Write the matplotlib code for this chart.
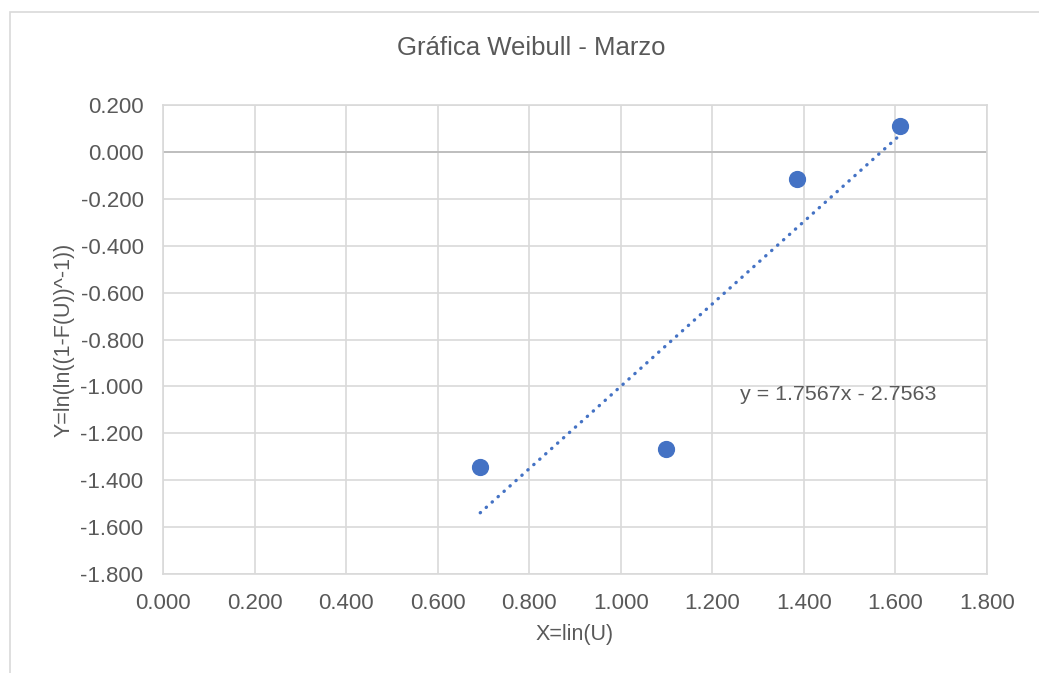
import matplotlib.pyplot as plt
import matplotlib.patches as patches
import numpy as np

plt.rcParams['font.family'] = ['Liberation Sans', 'DejaVu Sans']

# datos Weibull - Marzo
x_vals = [0.693, 1.099, 1.386, 1.609]
y_vals = [-1.344, -1.265, -0.115, 0.110]
pendiente = 1.7567
intercepto = -2.7563
x_ticks = [0.0, 0.2, 0.4, 0.6, 0.8, 1.0, 1.2, 1.4, 1.6, 1.8]
y_ticks = [0.2, 0.0, -0.2, -0.4, -0.6, -0.8, -1.0, -1.2, -1.4, -1.6, -1.8]

azul = '#4472C4'
gris = '#595959'

fig = plt.figure(figsize=(10.39, 6.73), dpi=100)
ax = fig.add_axes([163/1039, 99/673, (987-163)/1039, (574-105)/673])

# borde del area del grafico
fig.patches.append(patches.Rectangle((10/1039, -0.1), 1.2, 1 - 12/673 + 0.1,
                                     transform=fig.transFigure, fill=False,
                                     edgecolor='#D9D9D9', linewidth=1.2))

ax.scatter(x_vals, y_vals, s=130, color=azul, zorder=3)

xt = np.array([min(x_vals), max(x_vals)])
ax.plot(xt, pendiente * xt + intercepto, color=azul, linewidth=2.4,
        linestyle=(0, (0.1, 2.3)), dash_capstyle='round', zorder=2)
ax.text(1.474, -1.035, 'y = 1.7567x - 2.7563', fontsize=15.4, color=gris,
        ha='center', va='center')

ax.set_xlim(0, 1.8)
ax.set_ylim(-1.8, 0.2)
ax.set_xticks(x_ticks)
ax.set_yticks(y_ticks)
ax.set_xticklabels([f'{v:.3f}' for v in x_ticks])
ax.set_yticklabels([f'{v:.3f}' for v in y_ticks])
ax.tick_params(length=0, labelsize=16, colors=gris)
ax.tick_params(axis='x', pad=14)
ax.tick_params(axis='y', pad=14)
ax.grid(True, color='#D9D9D9', linewidth=1.2)
ax.set_axisbelow(True)
for s in ax.spines.values():
    s.set_color('#D9D9D9')
    s.set_linewidth(1.2)
ax.axhline(0, color='#BFBFBF', linewidth=1.4, zorder=1)

ax.set_xlabel('X=lin(U)', fontsize=15.5, color=gris, labelpad=7)
ax.set_ylabel('Y=ln(ln((1-F(U))^-1))', fontsize=15.5, color=gris, labelpad=4)
fig.text(531/1039, 1 - 48/673, 'Gráfica Weibull - Marzo', fontsize=18.5,
         color=gris, ha='center', va='center')

plt.savefig('out.png', dpi=100)
